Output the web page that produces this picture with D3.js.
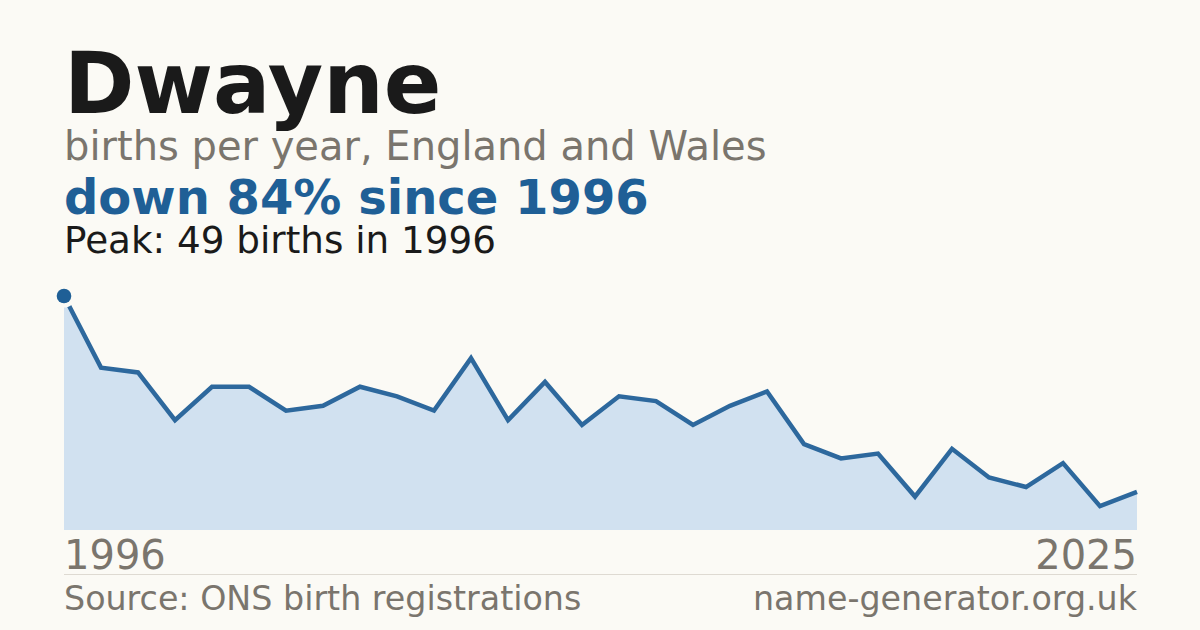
<!DOCTYPE html>
<html>
<head>
<meta charset="utf-8">
<script src="https://cdn.jsdelivr.net/npm/d3@7"></script>
<style>
  html, body { margin: 0; padding: 0; background: #fbfaf5; }
  svg { display: block; font-family: "DejaVu Sans", sans-serif; }
</style>
</head>
<body>
<div id="chart"></div>
<script>
const years = d3.range(1996, 2026);
const births = [49, 34, 33, 23, 30, 30, 25, 26, 30, 28,
                25, 36, 23, 31, 22, 28, 27, 22, 26, 29,
                18, 15, 16, 7, 17, 11, 9, 14, 5, 8];
const axisLabels = ["1996", "2025"];

const width = 1200, height = 630;
const margin = { left: 64, right: 63, top: 296, bottom: 100 };
const bg = "#fbfaf5";

const svg = d3.select("#chart").append("svg")
    .attr("width", width)
    .attr("height", height);

svg.append("rect")
    .attr("width", width)
    .attr("height", height)
    .attr("fill", bg);

const data = years.map((y, i) => ({ year: y, value: births[i] }));

const x = d3.scaleLinear()
    .domain(d3.extent(years))
    .range([margin.left, width - margin.right]);

const y = d3.scaleLinear()
    .domain([0, d3.max(births)])
    .range([height - margin.bottom, margin.top]);

// headings
svg.append("text")
    .attr("x", 64).attr("y", 113)
    .attr("font-size", 85).attr("font-weight", "bold")
    .attr("fill", "#1a1a1a")
    .text("Dwayne");

svg.append("text")
    .attr("x", 64).attr("y", 160)
    .attr("font-size", 40)
    .attr("fill", "#7a756d")
    .text("births per year, England and Wales");

svg.append("text")
    .attr("x", 64).attr("y", 214)
    .attr("font-size", 48).attr("font-weight", "bold")
    .attr("fill", "#1f5f96")
    .text("down 84% since 1996");

svg.append("text")
    .attr("x", 64).attr("y", 253)
    .attr("font-size", 37.3)
    .attr("fill", "#1a1a1a")
    .text("Peak: 49 births in 1996");

// area + line
const area = d3.area()
    .x(d => x(d.year))
    .y0(y(0))
    .y1(d => y(d.value));

const line = d3.line()
    .x(d => x(d.year))
    .y(d => y(d.value));

svg.append("path")
    .datum(data)
    .attr("d", area)
    .attr("fill", "#d1e1f0");

svg.append("path")
    .datum(data)
    .attr("d", line)
    .attr("fill", "none")
    .attr("stroke", "#2d689d")
    .attr("stroke-width", 4.5)
    .attr("stroke-linejoin", "miter");

// peak marker with a halo in the background colour
const peak = data[d3.maxIndex(data, d => d.value)];
svg.append("circle")
    .attr("cx", x(peak.year))
    .attr("cy", y(peak.value))
    .attr("r", 11.5)
    .attr("fill", bg);

svg.append("circle")
    .attr("cx", x(peak.year))
    .attr("cy", y(peak.value))
    .attr("r", 7.3)
    .attr("fill", "#1f5f96");

// x labels
svg.append("text")
    .attr("x", x(+axisLabels[0])).attr("y", 569)
    .attr("font-size", 40)
    .attr("fill", "#7a756d")
    .text(axisLabels[0]);

svg.append("text")
    .attr("x", x(+axisLabels[1])).attr("y", 569)
    .attr("font-size", 40)
    .attr("text-anchor", "end")
    .attr("fill", "#7a756d")
    .text(axisLabels[1]);

// footer
svg.append("line")
    .attr("x1", x.range()[0]).attr("x2", x.range()[1])
    .attr("y1", 574.5).attr("y2", 574.5)
    .attr("stroke", "#dedad2")
    .attr("stroke-width", 1);

svg.append("text")
    .attr("x", 64).attr("y", 610)
    .attr("font-size", 33.3)
    .attr("fill", "#7a756d")
    .text("Source: ONS birth registrations");

svg.append("text")
    .attr("x", width - margin.right).attr("y", 610)
    .attr("font-size", 33.3)
    .attr("text-anchor", "end")
    .attr("fill", "#7a756d")
    .text("name-generator.org.uk");
</script>
</body>
</html>
